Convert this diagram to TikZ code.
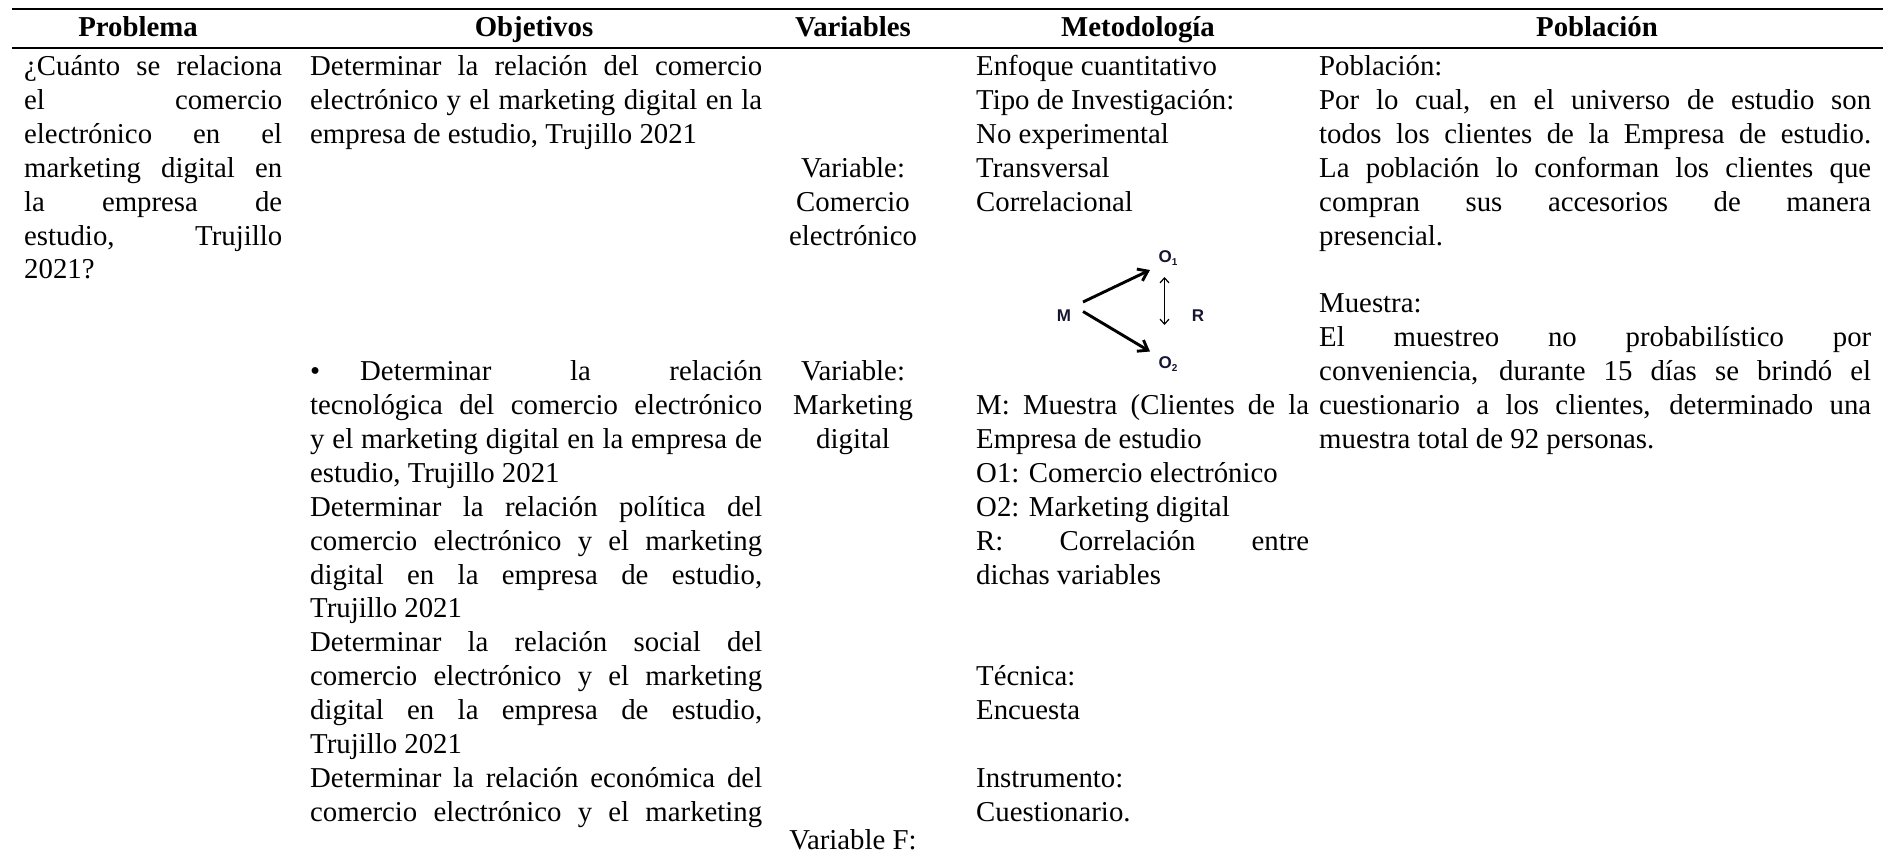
\documentclass[tikz,border=0pt]{standalone}
\usepackage{fontspec}
\setmainfont{Liberation Serif}
\newfontfamily\diagfont{Liberation Sans}
\usetikzlibrary{arrows.meta,calc}
\definecolor{lblc}{RGB}{22,22,48}
\tolerance=10000
\hyphenpenalty=10000
\begin{document}
\begin{tikzpicture}[x=1pt,y=-1pt,
  body/.style={anchor=base west, inner sep=0pt, font=\fontsize{28.8}{33.9}\selectfont},
  head/.style={anchor=base, inner sep=0pt, font=\fontsize{28.8}{33.9}\selectfont\bfseries},
  ctr/.style={anchor=base, inner sep=0pt, font=\fontsize{28.8}{33.9}\selectfont},
  rulel/.style={line width=2.1pt},
  lbl/.style={inner sep=0pt, text=lblc, font=\diagfont\bfseries\fontsize{17}{19}\selectfont},
  thickarrow/.style={line width=2.9pt, -{Straight Barb[length=9pt,width=13pt]}},
  thinarrow/.style={line width=1.2pt, {Straight Barb[length=5pt,width=9pt]}-{Straight Barb[length=5pt,width=9pt]}}
]
\useasboundingbox (0,0) rectangle (1883,855);
\fill[white] (0,0) rectangle (1883,855);
% rules
\coordinate (r1a) at (12,9);  \coordinate (r1b) at (1883,9);
\coordinate (r2a) at (12,48); \coordinate (r2b) at (1883,48);
\draw[rulel] (r1a) -- (r1b);
\draw[rulel] (r2a) -- (r2b);
% headers
\node[head] (hP) at (138,36) {Problema};
\node[head] (hO) at (534,36) {Objetivos};
\node[head] (hV) at (853,36) {Variables};
\node[head] (hM) at (1138,36) {Metodología};
\node[head] (hPo) at (1597,36) {Población};
% Problema
\node[body] (prob) at (24,75.5) {\parbox[t]{258pt}{¿Cuánto se relaciona\linebreak el comercio\linebreak electrónico en el\linebreak marketing digital en\linebreak la empresa de\linebreak estudio, Trujillo\linebreak 2021?}};
% Objetivos
\node[body] (obj1) at (310,75.5) {\parbox[t]{452pt}{Determinar la relación del comercio\linebreak electrónico y el marketing digital en la\linebreak empresa de estudio, Trujillo 2021}};
\node[body] (obj2) at (310,380.6) {\parbox[t]{452pt}{\makebox[50pt][l]{\textbullet}Determinar la relación\linebreak tecnológica del comercio electrónico\linebreak y el marketing digital en la empresa de\linebreak estudio, Trujillo 2021\par
Determinar la relación política del\linebreak comercio electrónico y el marketing\linebreak digital en la empresa de estudio,\linebreak Trujillo 2021\par
Determinar la relación social del\linebreak comercio electrónico y el marketing\linebreak digital en la empresa de estudio,\linebreak Trujillo 2021\par
Determinar la relación económica del\linebreak comercio electrónico y el marketing\parfillskip=0pt}};
% Variables
\node[ctr] (var1) at (853,177.2) {\parbox[t]{200pt}{\centering Variable:\\Comercio\\electrónico}};
\node[ctr] (var2) at (853,380.6) {\parbox[t]{200pt}{\centering Variable:\\Marketing\\digital}};
\node[ctr] (var3) at (853,849) {Variable F:};
% Metodologia
\node[body] (met1) at (976,75.5) {\parbox[t]{333pt}{Enfoque cuantitativo\par Tipo de Investigación:\par No experimental\par Transversal\par Correlacional}};
\node[body] (met2) at (976,414.5) {\parbox[t]{333pt}{M: Muestra (Clientes de la\linebreak Empresa de estudio\par O1: Comercio electrónico\par O2: Marketing digital\par R: Correlación entre\linebreak dichas variables}};
\node[body] (met3) at (976,685.7) {\parbox[t]{333pt}{Técnica:\par Encuesta}};
\node[body] (met4) at (976,787.4) {\parbox[t]{333pt}{Instrumento:\par Cuestionario.}};
% Poblacion
\node[body] (pob1) at (1319,75.5) {\parbox[t]{552pt}{Población:\par Por lo cual, en el universo de estudio son\linebreak todos los clientes de la Empresa de estudio.\linebreak La población lo conforman los clientes que\linebreak compran sus accesorios de manera\linebreak presencial.}};
\node[body] (pob2) at (1319,312.8) {\parbox[t]{552pt}{Muestra:\par El muestreo no probabilístico por\linebreak conveniencia, durante 15 días se brindó el\linebreak cuestionario a los clientes, determinado una\linebreak muestra total de 92 personas.}};
% diagram
\node[lbl] (M) at (1064,315.5) {M};
\node[lbl] (O1) at (1168,258.5) {O\raisebox{-3pt}{\fontsize{10}{10}\selectfont 1}};
\node[lbl] (O2) at (1168,364.5) {O\raisebox{-3pt}{\fontsize{10}{10}\selectfont 2}};
\node[lbl] (R) at (1198,316) {R};
\draw[thickarrow] ($(M)+(19,-13.5)$) -- ($(O1)+(-18,11.5)$);
\draw[thickarrow] ($(M)+(19,-4)$) -- ($(O2)+(-18,-13)$);
\draw[thinarrow] ($(O1)+(-3.5,18.5)$) -- ($(O2)+(-3.5,-39.5)$);
\end{tikzpicture}
\end{document}
